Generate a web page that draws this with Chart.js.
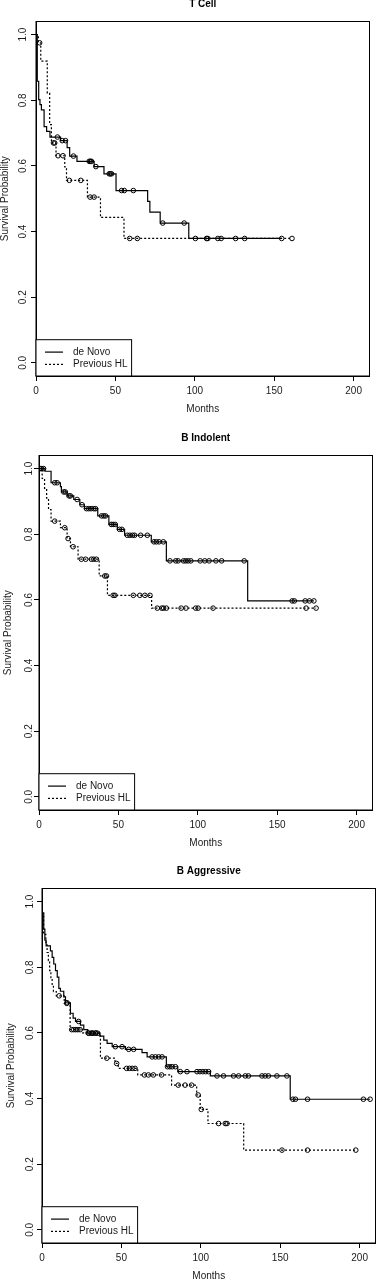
<!DOCTYPE html>
<html>
<head>
<meta charset="utf-8">
<script src="https://cdn.jsdelivr.net/npm/chart.js@4.4.1/dist/chart.umd.min.js"></script>
<style>
  html, body { margin: 0; padding: 0; background: #fff; overflow: hidden; }
  body { width: 376px; height: 1280px; position: relative; }
  .panel { position: absolute; width: 376px; height: 430px; }
</style>
</head>
<body>
<div class="panel" style="top:-14.5px; left:0px"><canvas id="tcell"></canvas></div>
<div class="panel" style="top:420.2px; left:2.7px"><canvas id="bindolent"></canvas></div>
<div class="panel" style="top:852.8px; left:5.7px"><canvas id="baggressive"></canvas></div>
<script>
// axes
const xTicks = [0, 50, 100, 150, 200];
const yTicks = [0, 0.2, 0.4, 0.6, 0.8, 1.0];
const seriesNames = ['de Novo', 'Previous HL'];

// T Cell - de Novo (step times in months, survival after the step)
const tcellNovoTimes = [0, 0.8, 1.7, 2.5, 3.4, 5.1, 6.7, 8.8, 15.5, 19.6, 21.2, 25.8, 36.6, 42.8, 50.4, 70.3, 71.7, 78.2, 96.2, 154.7];
const tcellNovoSurv = [1, 0.858, 0.802, 0.787, 0.771, 0.72, 0.705, 0.688, 0.677, 0.656, 0.63, 0.614, 0.598, 0.576, 0.525, 0.492, 0.459, 0.426, 0.379, 0.379];
const tcellNovoCensored = [13.5, 16.5, 18.6, 23.6, 33.5, 34.2, 34.9, 37.7, 46.1, 46.8, 47.6, 53.9, 55.6, 61.3, 79.8, 93.3, 100.4, 107.4, 114.5, 125.7, 154.7];
// T Cell - Previous HL
const tcellPrevTimes = [0, 1.5, 3.0, 7.1, 8.6, 9.7, 12.6, 18.1, 19.2, 32.4, 40.6, 55.4, 161.2];
const tcellPrevSurv = [1, 0.975, 0.919, 0.822, 0.726, 0.67, 0.631, 0.597, 0.556, 0.505, 0.443, 0.379, 0.379];
const tcellPrevCensored = [2.3, 11.0, 11.8, 13.9, 17.0, 21.0, 28.2, 34.1, 36.6, 59.0, 63.8, 108.2, 116.6, 131.4, 161.2];

// B Indolent - de Novo
const indolNovoTimes = [0, 3.8, 7.6, 13.5, 14.1, 17.7, 21.9, 25.7, 28.6, 37.0, 44.0, 49.3, 53.9, 70.7, 80.2, 131.4, 173.1];
const indolNovoSurv = [1, 0.992, 0.957, 0.945, 0.929, 0.917, 0.906, 0.89, 0.878, 0.856, 0.83, 0.815, 0.797, 0.777, 0.719, 0.597, 0.597];
const indolNovoCensored = [0.8, 1.7, 2.9, 9.9, 11.4, 15.6, 16.6, 18.9, 19.8, 24.0, 27.1, 29.9, 31.3, 32.8, 34.5, 35.6, 39.4, 40.8, 41.9, 45.5, 46.7, 48.0, 50.7, 52.2, 55.6, 57.2, 58.9, 60.2, 64.0, 68.2, 72.4, 73.9, 75.6, 78.3, 82.5, 86.1, 87.6, 91.0, 92.4, 93.9, 95.6, 101.5, 104.4, 107.1, 111.4, 115.0, 129.2, 159.4, 160.8, 167.6, 170.3, 173.1];
// B Indolent - Previous HL
const indolPrevTimes = [0, 2.0, 3.5, 4.8, 6.0, 7.6, 13.5, 17.7, 19.8, 24.6, 37.9, 43.1, 70.9, 174.5];
const indolPrevSurv = [1, 0.97, 0.94, 0.91, 0.875, 0.84, 0.82, 0.787, 0.762, 0.724, 0.673, 0.614, 0.575, 0.575];
const indolPrevCensored = [9.9, 16.2, 18.3, 21.5, 26.7, 29.4, 33.0, 34.5, 36.2, 41.4, 42.5, 46.7, 47.8, 59.4, 63.5, 66.7, 69.9, 74.5, 77.3, 78.5, 80.2, 89.5, 92.5, 98.7, 100.2, 109.6, 168.2, 174.5];

// B Aggressive - de Novo
const aggrNovoTimes = [0, 1.1, 1.8, 2.6, 5.3, 6.4, 7.4, 8.5, 9.6, 10.6, 11.6, 13.7, 14.8, 17.9, 19.6, 21.1, 24.2, 26.3, 28.8, 36.4, 38.9, 41.0, 44.2, 52.5, 63.0, 66.2, 78.3, 85.5, 106.0, 156.3, 206.6];
const aggrNovoSurv = [0.965, 0.916, 0.883, 0.865, 0.85, 0.83, 0.81, 0.79, 0.77, 0.736, 0.727, 0.71, 0.692, 0.66, 0.645, 0.635, 0.624, 0.61, 0.599, 0.59, 0.578, 0.568, 0.558, 0.55, 0.54, 0.527, 0.497, 0.482, 0.469, 0.398, 0.398];
const aggrNovoCensored = [15.8, 23.1, 29.4, 30.9, 32.2, 33.6, 35.1, 46.2, 50.4, 54.6, 57.7, 69.3, 71.4, 73.5, 75.6, 79.0, 80.5, 82.0, 84.0, 87.1, 91.3, 97.6, 99.5, 101.3, 103.1, 104.9, 110.2, 114.3, 120.6, 123.8, 128.0, 130.0, 138.5, 140.5, 142.6, 147.9, 154.2, 158.0, 159.6, 167.2, 202.4, 206.6];
// B Aggressive - Previous HL
const aggrPrevTimes = [0, 1.0, 2.4, 3.2, 4.0, 4.8, 5.6, 6.4, 7.2, 9.0, 14.0, 17.7, 25.5, 36.8, 46.0, 48.0, 60.3, 81.6, 97.4, 99.6, 104.5, 127.0, 197.6];
const aggrPrevSurv = [0.965, 0.9, 0.868, 0.845, 0.82, 0.79, 0.765, 0.745, 0.726, 0.713, 0.69, 0.61, 0.6, 0.523, 0.507, 0.492, 0.472, 0.441, 0.411, 0.367, 0.324, 0.243, 0.243];
const aggrPrevCensored = [10.8, 15.6, 18.7, 20.0, 21.3, 22.6, 24.0, 29.0, 31.5, 34.0, 40.8, 47.0, 53.3, 55.0, 56.8, 58.6, 64.5, 67.0, 70.1, 75.3, 85.8, 90.1, 94.2, 98.3, 100.3, 111.2, 115.4, 116.5, 151.1, 167.2, 197.6];

Chart.defaults.font.family = '"Liberation Sans", Arial, sans-serif';
Chart.defaults.font.size = 10;
Chart.defaults.color = '#1a1a1a';

// survival value of the curve at a censoring time (mark sits on the step)
function survAt(times, surv, t) {
    let s = surv[0];
    for (let i = 0; i < times.length; i++) {
        if (times[i] <= t) s = surv[i];
    }
    return s;
}

function curve(label, times, surv, dash) {
    return {
        label: label,
        data: times.map((t, i) => ({ x: t, y: surv[i] })),
        showLine: true,
        stepped: true,
        borderColor: '#000',
        borderWidth: 1.2,
        borderDash: dash,
        pointRadius: 0,
        fill: false
    };
}

function marks(times, surv, cens) {
    return {
        label: '',
        data: cens.map(c => ({ x: c, y: survAt(times, surv, c) })),
        showLine: false,
        pointStyle: 'circle',
        pointRadius: 2.3,
        borderWidth: 1,
        borderColor: '#000',
        backgroundColor: 'rgba(0,0,0,0)'
    };
}

// box round the plot region and the legend in its lower left corner
const frameAndKey = {
    id: 'frameAndKey',
    afterDatasetsDraw(chart) {
        const { ctx, chartArea: a } = chart;
        ctx.save();
        ctx.strokeStyle = '#000';
        ctx.lineWidth = 1;
        ctx.strokeRect(a.left, a.top, a.right - a.left, a.bottom - a.top);

        const w = 95.6, h = 36.3;
        const x = a.left, y = a.bottom - h;
        ctx.fillStyle = '#fff';
        ctx.fillRect(x, y, w, h);
        ctx.strokeRect(x, y, w, h);
        chart.data.datasets.filter(d => d.showLine).forEach((d, i) => {
            const ly = y + 12.4 + i * 12.3;
            ctx.setLineDash(d.borderDash);
            ctx.lineWidth = d.borderWidth;
            ctx.beginPath();
            ctx.moveTo(x + 9, ly);
            ctx.lineTo(x + 27, ly);
            ctx.stroke();
            ctx.setLineDash([]);
            ctx.fillStyle = '#1a1a1a';
            ctx.font = '10px "Liberation Sans", Arial, sans-serif';
            ctx.textBaseline = 'middle';
            ctx.textAlign = 'left';
            ctx.fillText(d.label, x + 37, ly);
        });
        ctx.restore();
    }
};

function buildPanel(id, title, novo, prev, tickPad) {
    new Chart(document.getElementById(id), {
        type: 'scatter',
        data: {
            datasets: [
                curve(seriesNames[0], novo[0], novo[1], []),
                curve(seriesNames[1], prev[0], prev[1], [2, 2]),
                marks(novo[0], novo[1], novo[2]),
                marks(prev[0], prev[1], prev[2])
            ]
        },
        options: {
            responsive: true,
            maintainAspectRatio: false,
            animation: false,
            events: [],
            layout: { padding: { left: 0, right: 6.5, top: 0, bottom: 0 } },
            scales: {
                x: {
                    type: 'linear',
                    min: 0,
                    max: 210,
                    afterBuildTicks: s => { s.ticks = xTicks.map(v => ({ value: v })); },
                    afterFit: s => { s.height = 40; },
                    grid: { drawOnChartArea: false, drawTicks: true, tickLength: 5, color: '#000', lineWidth: 1 },
                    border: { display: true, color: '#000', width: 1 },
                    ticks: { padding: 4, maxRotation: 0, minRotation: 0 },
                    title: { display: true, text: 'Months', padding: { top: 0, bottom: 0.5 } }
                },
                y: {
                    min: -0.04,
                    max: 1.04,
                    afterBuildTicks: s => { s.ticks = yTicks.map(v => ({ value: v })); },
                    afterFit: s => { s.width = 36; },
                    grid: { drawOnChartArea: false, drawTicks: true, tickLength: 5, color: '#000', lineWidth: 1 },
                    border: { display: true, color: '#000', width: 1 },
                    ticks: {
                        minRotation: 90,
                        maxRotation: 90,
                        crossAlign: 'center',
                        padding: tickPad,
                        callback: v => v.toFixed(1)
                    },
                    title: {
                        display: true,
                        text: 'Survival Probability',
                        padding: { top: 0, bottom: 0 },
                        font: { size: 10, lineHeight: 1 }
                    }
                }
            },
            plugins: {
                legend: { display: false },
                tooltip: { enabled: false },
                title: {
                    display: true,
                    text: title,
                    fullSize: false,
                    color: '#000',
                    font: { size: 10, weight: 'bold', lineHeight: 1 },
                    padding: { top: 13, bottom: 12.5 }
                }
            }
        },
        plugins: [frameAndKey]
    });
}

buildPanel('tcell', 'T Cell',
    [tcellNovoTimes, tcellNovoSurv, tcellNovoCensored],
    [tcellPrevTimes, tcellPrevSurv, tcellPrevCensored], 1.2);
buildPanel('bindolent', 'B Indolent',
    [indolNovoTimes, indolNovoSurv, indolNovoCensored],
    [indolPrevTimes, indolPrevSurv, indolPrevCensored], -2.2);
buildPanel('baggressive', 'B Aggressive',
    [aggrNovoTimes, aggrNovoSurv, aggrNovoCensored],
    [aggrPrevTimes, aggrPrevSurv, aggrPrevCensored], -0.7);
</script>
</body>
</html>
